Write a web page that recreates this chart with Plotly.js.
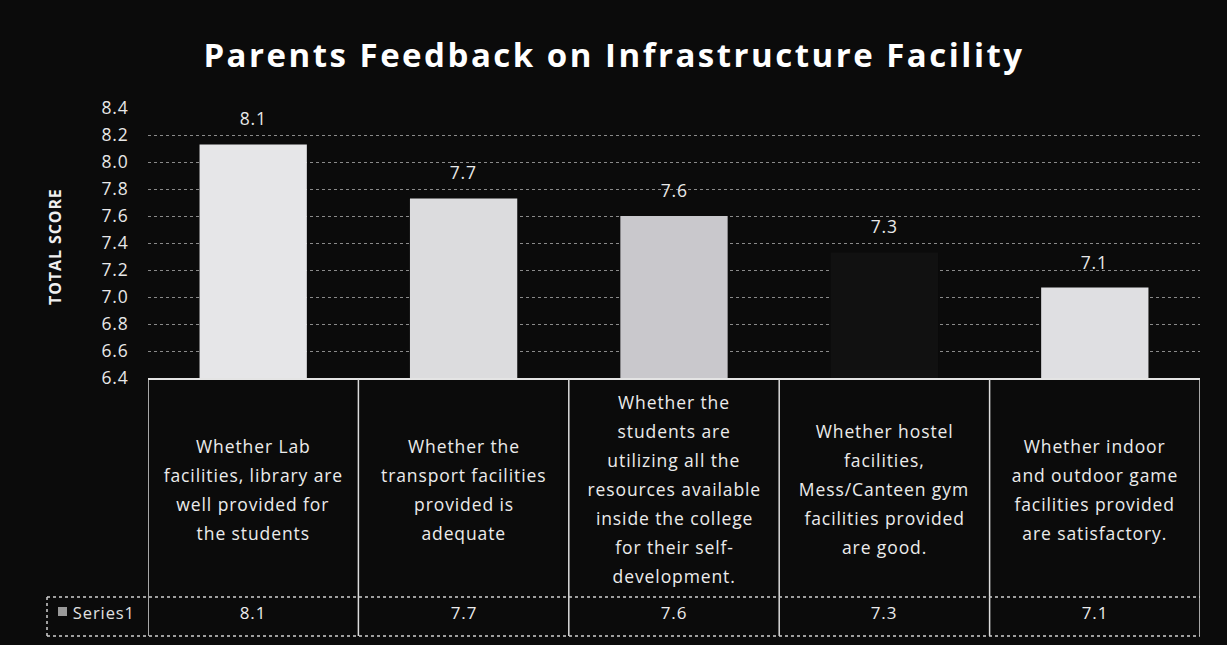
<!DOCTYPE html>
<html>
<head>
<meta charset="utf-8">
<script src="https://cdn.plot.ly/plotly-3.0.1.min.js"></script>
<style>
  html, body { margin: 0; padding: 0; background: #0b0b0b; }
  #chart { width: 1227px; height: 645px; }
  #chart .gtitle { letter-spacing: 2.5px; }
  #chart .annotation-text { letter-spacing: 0.9px; }
  #chart .ytick text { letter-spacing: 0.8px; }
</style>
</head>
<body>
<div id="chart"></div>
<script>
// ---- data ----
const categories = [
  "Whether Lab<br>facilities, library are<br>well provided for<br>the students",
  "Whether the<br>transport facilities<br>provided is<br>adequate",
  "Whether the<br>students are<br>utilizing all the<br>resources available<br>inside the college<br>for their self-<br>development.",
  "Whether hostel<br>facilities,<br>Mess/Canteen gym<br>facilities provided<br>are good.",
  "Whether indoor<br>and outdoor game<br>facilities provided<br>are satisfactory."
];
const values = [8.13, 7.73, 7.6, 7.33, 7.07];
const seriesName = "Series1";
const yTicks = [6.4, 6.6, 6.8, 7.0, 7.2, 7.4, 7.6, 7.8, 8.0, 8.2, 8.4];
const titleText = "Parents Feedback on Infrastructure Facility";
const yTitleText = "TOTAL SCORE";

// ---- layout geometry (pixels) ----
const W = 1227, H = 645;
const L = 148, R = 27, T = 108, B = 267;
const plotW = W - L - R, plotH = H - T - B;
const px2x = px => (px - L) / plotW;
const py2y = py => (H - B - py) / plotH;

const FONT = "'Open Sans', 'Noto Sans', sans-serif";
const barColors = ["#e6e6e8", "#dcdcde", "#c9c8cc", "#111111", "#dfdfe2"];

const xIdx = categories.map((c, i) => i);

const trace = {
  type: "bar",
  x: xIdx,
  y: values,
  name: seriesName,
  marker: { color: barColors, line: { width: 0 } },
  hoverinfo: "skip",
  showlegend: false
};

const annotations = [];
// value labels above bars
values.forEach((v, i) => {
  annotations.push({
    x: i, y: v, xref: "x", yref: "y",
    text: v.toFixed(1), showarrow: false,
    yanchor: "bottom", yshift: 12,
    font: { family: FONT, size: 17.5, color: "#e8e8e8" }
  });
});
// category labels in table (line by line)
const lineGap = 29;
const cellCenterPy = 489;
categories.forEach((c, i) => {
  const lines = c.split("<br>");
  const n = lines.length;
  lines.forEach((ln, k) => {
    const py = cellCenterPy + (k - (n - 1) / 2) * lineGap;
    annotations.push({
      x: i, y: py2y(py), xref: "x", yref: "paper",
      text: ln, showarrow: false, xanchor: "center", yanchor: "middle",
      font: { family: FONT, size: 17.5, color: "#ececec" }
    });
  });
});
// data table row values
values.forEach((v, i) => {
  annotations.push({
    x: i, y: py2y(612), xref: "x", yref: "paper",
    text: v.toFixed(1), showarrow: false, yanchor: "middle",
    font: { family: FONT, size: 17, color: "#ececec" }
  });
});
// series name in table
annotations.push({
  x: px2x(74), y: py2y(612), xref: "paper", yref: "paper",
  text: seriesName, showarrow: false, xanchor: "left", yanchor: "middle",
  font: { family: FONT, size: 16.5, color: "#e0e0e0" }
});
// y axis title
annotations.push({
  x: px2x(55), y: py2y(247), xref: "paper", yref: "paper",
  text: "<b>" + yTitleText + "</b>", showarrow: false, textangle: -90,
  xanchor: "center", yanchor: "middle",
  font: { family: FONT, size: 16, color: "#f0f0f0" }
});

const shapes = [];
const solid = { color: "#e4e4e4", width: 2 };
const dashed = { color: "#cfcfcf", width: 1.5, dash: "dot" };
// top line of table
shapes.push({ type: "line", xref: "paper", yref: "paper",
  x0: px2x(148), x1: px2x(1200), y0: py2y(379), y1: py2y(379), line: solid });
// vertical column lines
for (let i = 0; i <= categories.length; i++) {
  const xv = i - 0.5;
  shapes.push({ type: "line", xref: "x", yref: "paper",
    x0: xv, x1: xv, y0: py2y(379), y1: py2y(636), line: { color: "#dcdcdc", width: 1.5 } });
}
// row separator & bottom line
shapes.push({ type: "line", xref: "paper", yref: "paper",
  x0: px2x(47), x1: px2x(1200), y0: py2y(597), y1: py2y(597), line: dashed });
shapes.push({ type: "line", xref: "paper", yref: "paper",
  x0: px2x(47), x1: px2x(1200), y0: py2y(636), y1: py2y(636), line: dashed });
// left of legend cell
shapes.push({ type: "line", xref: "paper", yref: "paper",
  x0: px2x(47), x1: px2x(47), y0: py2y(597), y1: py2y(636), line: dashed });
// legend key square
shapes.push({ type: "rect", xref: "paper", yref: "paper",
  x0: px2x(58), x1: px2x(67), y0: py2y(607), y1: py2y(616),
  fillcolor: "#9a9a9a", line: { width: 0 } });

const layout = {
  width: W, height: H,
  paper_bgcolor: "#0b0b0b",
  plot_bgcolor: "#0b0b0b",
  margin: { l: L, r: R, t: T, b: B },
  title: {
    text: "<b>" + titleText + "</b>",
    x: (203 + 1025) / 2 / W, xanchor: "center", y: 1 - 55 / H, yanchor: "middle",
    font: { family: FONT, size: 33, color: "#ffffff" }
  },
  bargap: 0.49,
  xaxis: {
    range: [-0.5, categories.length - 0.5],
    showticklabels: false, showgrid: false, zeroline: false, showline: false,
    fixedrange: true
  },
  yaxis: {
    range: [6.4, 8.4],
    tickvals: yTicks,
    ticktext: yTicks.map(t => t.toFixed(1)),
    ticks: "outside", ticklen: 15, tickcolor: "rgba(0,0,0,0)",
    tickfont: { family: FONT, size: 17.5, color: "#e8e8e8" },
    showgrid: true, gridcolor: "#8a8a8a", griddash: "dot", gridwidth: 1,
    zeroline: false, showline: false, fixedrange: true
  },
  annotations: annotations,
  shapes: shapes,
  showlegend: false
};

Plotly.newPlot("chart", [trace], layout, { displayModeBar: false, staticPlot: true });
</script>
</body>
</html>
